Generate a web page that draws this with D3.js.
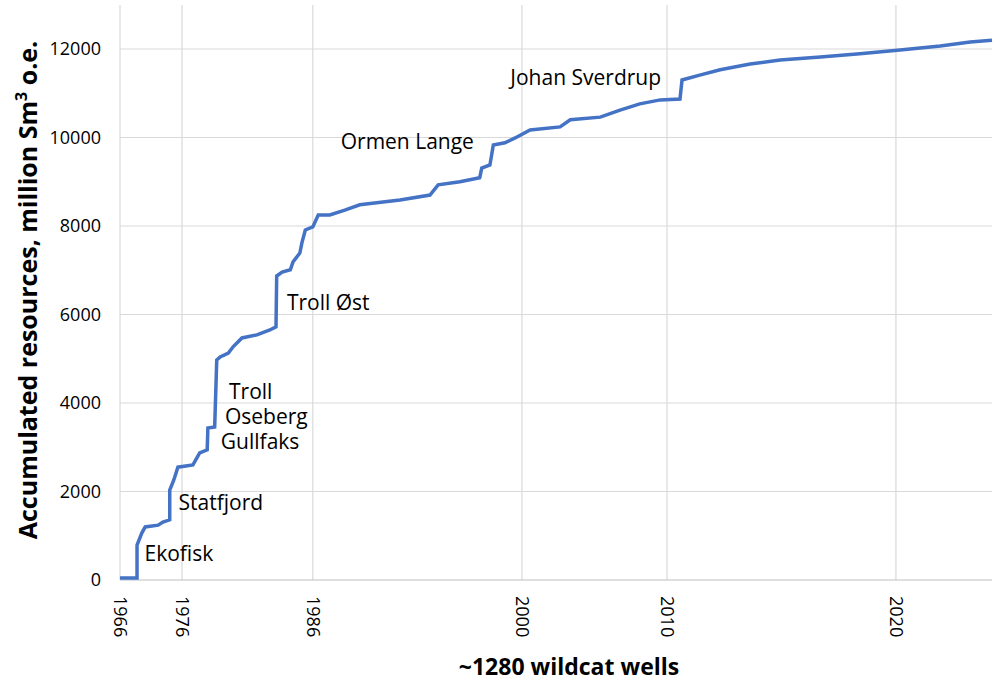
<!DOCTYPE html>
<html><head><meta charset="utf-8">
<script src="https://cdn.jsdelivr.net/npm/d3@7"></script>
<style>body{margin:0;background:#fff}text{font-family:"Open Sans","Noto Sans",sans-serif}</style>
</head><body><svg id="chart" width="1000" height="690"></svg>
<script>
// cumulative wildcat well count vs accumulated resources (million Sm3 o.e.)
const wells = [0,25,25,32,37,56,63,73,73,79,85,107,117,128,129,139,142,147,159,166,179,201,220,229,230,238,250,254,264,267,272,283,291,308,330,352,411,455,467,499,528,531,543,548,565,580,602,646,661,705,734,763,793,822,825,851,881,925,969,1028,1086,1145,1204,1248,1280];
const resources = [45,45,790,1060,1200,1240,1310,1360,2030,2260,2550,2600,2870,2940,3435,3460,4970,5040,5130,5270,5470,5540,5650,5720,6870,6960,7010,7190,7390,7620,7910,7980,8250,8250,8360,8480,8590,8700,8930,9000,9090,9310,9380,9830,9880,9990,10170,10240,10400,10460,10620,10760,10850,10870,11300,11410,11530,11660,11750,11820,11890,11980,12070,12160,12200];
const yearLabels = ["1966","1976","1986","2000","2010","2020"];
const yearWells = [0,91,283,590,803,1139];
const yTicks = [0,2000,4000,6000,8000,10000,12000];
const fields = ["Ekofisk","Statfjord","Troll","Oseberg","Gullfaks","Troll Øst","Ormen Lange","Johan Sverdrup"];
const fieldWells = [36,86,160,154,148,245,324,573];
const fieldValues = [420,1590,4080,3520,2960,6100,9750,11180];

const svg = d3.select("#chart");
const x = d3.scaleLinear().domain([0,1280]).range([120,992]);
const y = d3.scaleLinear().domain([0,12000]).range([580,49]);

// grid
svg.append("g").selectAll("line").data(yTicks.slice(1)).join("line")
  .attr("x1",120).attr("x2",992).attr("y1",d=>y(d)).attr("y2",d=>y(d))
  .attr("stroke","#d9d9d9").attr("stroke-width",1.2);
svg.append("g").selectAll("line").data(yearWells).join("line")
  .attr("x1",d=>x(d)).attr("x2",d=>x(d)).attr("y1",580).attr("y2",5)
  .attr("stroke","#d9d9d9").attr("stroke-width",1.2);
svg.append("line").attr("x1",120).attr("x2",992).attr("y1",580).attr("y2",580)
  .attr("stroke","#bfbfbf").attr("stroke-width",1.2);

// y tick labels
svg.append("g").selectAll("text").data(yTicks).join("text")
  .attr("x",101).attr("y",d=>y(d)+6).attr("text-anchor","end")
  .attr("font-size",18).attr("fill","#000").text(d=>d);

// x tick labels (rotated)
svg.append("g").selectAll("text").data(yearLabels).join("text")
  .attr("transform",(d,i)=>`translate(${x(yearWells[i])-6},596) rotate(90)`)
  .attr("text-anchor","start").attr("font-size",18).text(d=>d);

// line
svg.append("path").datum(wells.map((w,i)=>[w,resources[i]]))
  .attr("d",d3.line().x(d=>x(d[0])).y(d=>y(d[1])))
  .attr("fill","none").attr("stroke","#4472c4").attr("stroke-width",3.5);

// field annotations
svg.append("g").selectAll("text").data(fields).join("text")
  .attr("x",(d,i)=>x(fieldWells[i])).attr("y",(d,i)=>y(fieldValues[i]))
  .attr("font-size",21).attr("fill","#000").text(d=>d);

// axis titles
svg.append("text").attr("x",569).attr("y",675).attr("text-anchor","middle")
  .attr("font-size",23).attr("font-weight","bold").text("~1280 wildcat wells");
const yt = svg.append("text").attr("transform","translate(37,290) rotate(-90)")
  .attr("text-anchor","middle").attr("font-size",25).attr("font-weight","bold");
yt.append("tspan").text("Accumulated resources, million Sm");
yt.append("tspan").attr("dy",-10).attr("font-size",16).text("3");
yt.append("tspan").attr("dy",10).text(" o.e.");
</script></body></html>
